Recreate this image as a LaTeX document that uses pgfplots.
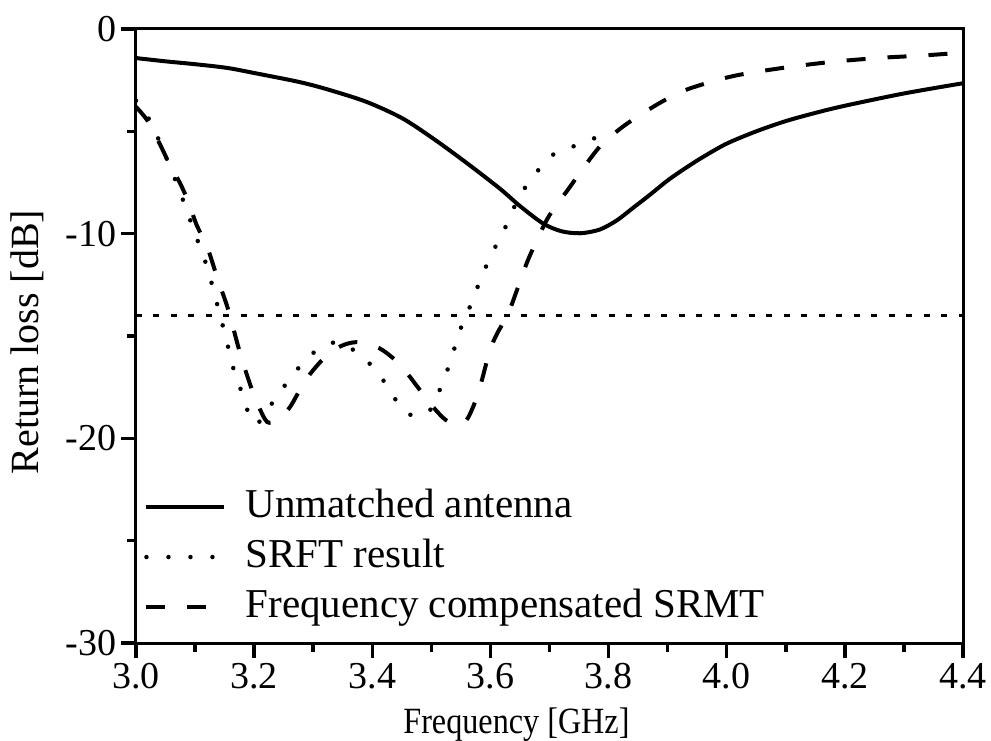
\documentclass[border=0pt]{standalone}
\usepackage{pgfplots}
\pgfplotsset{compat=1.18}
\usepackage{fontspec}
\setmainfont{Liberation Serif}
\begin{document}
\begin{tikzpicture}
\useasboundingbox (-136pt,-97pt) rectangle (855pt,643pt);
\begin{axis}[
  at={(0,0)}, anchor=south west,
  width=827pt, height=614pt, scale only axis,
  xmin=3.0, xmax=4.4, ymin=-30, ymax=0,
  xtick={3.0,3.2,3.4,3.6,3.8,4.0,4.2,4.4},
  xticklabels={3.0,3.2,3.4,3.6,3.8,4.0,4.2,4.4},
  ytick={-30,-20,-10,0},
  yticklabels={-30,-20,-10,0},
  minor x tick num=1, minor y tick num=1,
  tick align=outside, xtick pos=left, ytick pos=left,
  major tick length=15pt, minor tick length=9pt,
  every tick/.style={black, line width=3.5pt},
  axis line style={line width=3pt},
  tick label style={font=\fontsize{38}{40}\selectfont},
  xticklabel style={yshift=-2pt},
  yticklabel style={xshift=-1pt},
  xlabel={\scalebox{0.87}[1]{Frequency [GHz]}},
  xlabel style={font=\fontsize{37}{40}\selectfont, at={(axis description cs:0.46,0)}, anchor=base, yshift=-90pt},
  ylabel={Return loss [dB]},
  ylabel style={font=\fontsize{40}{42}\selectfont, at={(axis description cs:-0.1318,0.49)}, anchor=center},
  legend style={draw=none, fill=none, at={(axis description cs:0.0097,0.1400)}, anchor=west,
    font=\fontsize{41}{43}\selectfont, inner sep=0pt, row sep=14pt, column sep=19pt,
    nodes={inner sep=0pt, text height=28pt, text depth=8pt}},
  legend cell align=left,
  legend image code/.code={\draw[#1] (0pt,0pt) -- (78pt,0pt);},
]
\addplot[black, line width=4pt, smooth] coordinates {
(3.0,-1.42) (3.05,-1.58) (3.1,-1.72) (3.154,-1.9) (3.2,-2.15) (3.278,-2.6) (3.33,-3.0)
(3.391,-3.57) (3.45,-4.35) (3.503,-5.35) (3.56,-6.55) (3.616,-7.8) (3.65,-8.65)
(3.689,-9.5) (3.72,-9.88) (3.752,-9.98) (3.785,-9.8) (3.814,-9.35) (3.841,-8.75)
(3.87,-8.1) (3.9,-7.4) (3.93,-6.8) (3.96,-6.25) (4.0,-5.6) (4.05,-5.0) (4.1,-4.5)
(4.15,-4.1) (4.2,-3.75) (4.3,-3.15) (4.4,-2.65)
};
\addlegendentry{Unmatched antenna}
\addplot[black, line width=4.5pt, line cap=round, dash pattern=on 0pt off 22pt, smooth] coordinates {
(3.0,-3.5) (3.024,-4.5) (3.05,-6.2) (3.075,-8.0) (3.1,-10.0) (3.12,-11.6) (3.137,-13.4)
(3.154,-15.3) (3.164,-16.5) (3.176,-17.5) (3.187,-18.5) (3.2,-19.3) (3.215,-19.0)
(3.23,-18.3) (3.255,-17.3) (3.283,-16.3) (3.311,-15.6) (3.345,-15.3) (3.382,-16.0)
(3.41,-16.8) (3.43,-17.7) (3.452,-18.6) (3.47,-18.9) (3.49,-18.8) (3.506,-18.3)
(3.518,-17.3) (3.532,-16.3) (3.543,-15.2) (3.554,-14.3) (3.571,-13.2) (3.582,-12.3)
(3.599,-11.2) (3.616,-10.2) (3.633,-9.25) (3.647,-8.25) (3.672,-7.25) (3.70,-6.25)
(3.735,-5.8) (3.77,-5.4) (3.79,-5.2)
};
\addlegendentry{SRFT result}
\addplot[black, line width=4pt, dash pattern=on 19pt off 22pt, smooth] coordinates {
(3.0,-3.8) (3.02,-4.5) (3.04,-5.6) (3.06,-6.8) (3.074,-7.5) (3.088,-8.4) (3.103,-9.6)
(3.12,-10.6) (3.137,-12.1) (3.156,-13.7) (3.171,-15.3) (3.181,-16.3) (3.196,-17.6)
(3.207,-18.4) (3.222,-19.2) (3.238,-19.1) (3.26,-18.5) (3.286,-17.2) (3.311,-16.3)
(3.334,-15.7) (3.355,-15.4) (3.374,-15.3) (3.395,-15.4) (3.418,-15.7) (3.447,-16.4)
(3.477,-17.5) (3.498,-18.3) (3.52,-19.0) (3.537,-19.3) (3.55,-19.3) (3.562,-19.0)
(3.577,-18.0) (3.587,-17.0) (3.599,-15.7) (3.611,-14.9) (3.63,-13.9) (3.645,-12.75)
(3.662,-11.4) (3.679,-10.3) (3.70,-9.1) (3.735,-7.7) (3.752,-7.0) (3.785,-5.75)
(3.814,-5.0) (3.84,-4.45) (3.87,-3.9) (3.9,-3.4) (3.938,-2.9) (4.011,-2.3) (4.095,-1.9)
(4.18,-1.6) (4.265,-1.4) (4.33,-1.3) (4.4,-1.15)
};
\addlegendentry{Frequency compensated SRMT}
\addplot[black, line width=2.5pt, dash pattern=on 6pt off 11.5pt, forget plot] coordinates {(3.0,-14) (4.4,-14)};
\end{axis}
\end{tikzpicture}
\end{document}
